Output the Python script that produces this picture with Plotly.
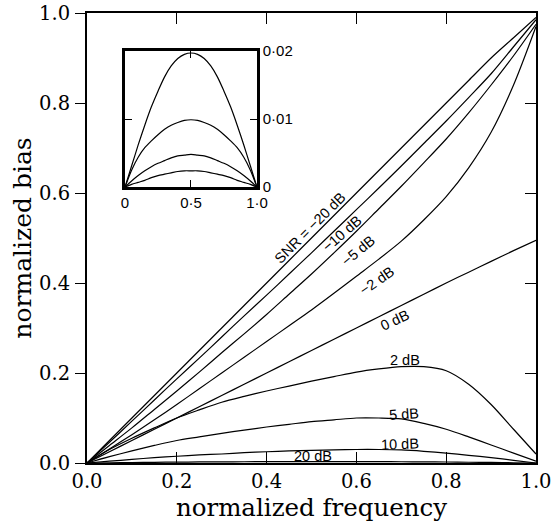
import plotly.graph_objects as go

# ---- main chart data ----
freq = [0.0, 0.05, 0.1, 0.15, 0.2, 0.25, 0.3, 0.35, 0.4, 0.45, 0.5,
        0.55, 0.6, 0.65, 0.7, 0.75, 0.8, 0.85, 0.9, 0.95, 1.0]
bias_m20 = [0.0, 0.05, 0.10, 0.15, 0.20, 0.25, 0.30, 0.35, 0.40, 0.45, 0.50,
            0.55, 0.60, 0.65, 0.70, 0.75, 0.80, 0.85, 0.90, 0.945, 0.99]
bias_m10 = [0.0, 0.046, 0.093, 0.140, 0.187, 0.233, 0.280, 0.327, 0.373, 0.420, 0.467,
            0.515, 0.563, 0.611, 0.660, 0.710, 0.760, 0.812, 0.865, 0.925, 0.985]
bias_m5 = [0.0, 0.039, 0.078, 0.119, 0.160, 0.202, 0.245, 0.287, 0.330, 0.375, 0.420,
           0.467, 0.515, 0.565, 0.615, 0.667, 0.720, 0.778, 0.840, 0.905, 0.975]
bias_m2 = [0.0, 0.031, 0.063, 0.096, 0.130, 0.165, 0.200, 0.235, 0.270, 0.305, 0.340,
           0.377, 0.415, 0.453, 0.493, 0.540, 0.592, 0.656, 0.735, 0.840, 0.970]
bias_0 = [0.0, 0.025, 0.050, 0.075, 0.100, 0.125, 0.150, 0.175, 0.200, 0.225, 0.250,
          0.275, 0.300, 0.325, 0.350, 0.375, 0.400, 0.424, 0.448, 0.472, 0.495]
bias_2 = [0.0, 0.030, 0.055, 0.078, 0.100, 0.118, 0.135, 0.148, 0.160, 0.171, 0.182,
          0.192, 0.202, 0.209, 0.214, 0.214, 0.205, 0.175, 0.130, 0.075, 0.020]
bias_5 = [0.0, 0.014, 0.027, 0.039, 0.050, 0.058, 0.066, 0.073, 0.080, 0.086, 0.092,
          0.096, 0.100, 0.100, 0.098, 0.088, 0.075, 0.058, 0.040, 0.022, 0.004]
bias_10 = [0.0, 0.004, 0.008, 0.012, 0.015, 0.018, 0.020, 0.023, 0.025, 0.027, 0.028,
           0.029, 0.030, 0.030, 0.029, 0.026, 0.022, 0.017, 0.012, 0.006, 0.000]
bias_20 = [0.0, 0.0005, 0.001, 0.0015, 0.002, 0.0023, 0.0025, 0.0028, 0.003, 0.0031, 0.0032,
           0.0031, 0.003, 0.0029, 0.0028, 0.0025, 0.0022, 0.0017, 0.0012, 0.0006, 0.0]

series = [bias_m20, bias_m10, bias_m5, bias_m2, bias_0, bias_2, bias_5, bias_10, bias_20]

labels = ["SNR = −20 dB", "−10 dB", "−5 dB", "−2 dB", "0 dB", "2 dB", "5 dB", "10 dB", "20 dB"]
label_x = [0.496, 0.567, 0.603, 0.645, 0.687, 0.709, 0.706, 0.698, 0.504]
label_y = [0.523, 0.509, 0.472, 0.404, 0.317, 0.228, 0.109, 0.043, 0.015]
label_angle = [-45, -41, -40, -35, -25, 0, -4, -2, 0]

main_ticks = [0.0, 0.2, 0.4, 0.6, 0.8, 1.0]
main_ticktext = ["0.0", "0.2", "0.4", "0.6", "0.8", "1.0"]

# ---- inset data ----
inset_x = [0.0, 0.05, 0.1, 0.15, 0.2, 0.25, 0.3, 0.35, 0.4, 0.45, 0.5,
           0.55, 0.6, 0.65, 0.7, 0.75, 0.8, 0.85, 0.9, 0.95, 1.0]
inset_a = [0.0, 0.0031, 0.0062, 0.0091, 0.0118, 0.0141, 0.0162, 0.0178, 0.0189, 0.0195, 0.0197,
           0.0195, 0.0189, 0.0178, 0.0162, 0.0141, 0.0118, 0.0091, 0.0062, 0.0031, 0.0]
inset_b = [0.0, 0.0025, 0.0044, 0.0058, 0.0068, 0.0077, 0.0085, 0.0091, 0.0095, 0.0098, 0.0099,
           0.0098, 0.0095, 0.0091, 0.0085, 0.0077, 0.0068, 0.0058, 0.0044, 0.0025, 0.0]
inset_c = [0.0, 0.0009, 0.0017, 0.0024, 0.0030, 0.0035, 0.0039, 0.0043, 0.0046, 0.0047, 0.0048,
           0.0047, 0.0046, 0.0043, 0.0039, 0.0035, 0.0030, 0.0024, 0.0017, 0.0009, 0.0]
inset_d = [0.0, 0.0004, 0.0007, 0.0010, 0.0014, 0.0017, 0.0019, 0.0021, 0.0023, 0.0024, 0.0024,
           0.0024, 0.0023, 0.0021, 0.0019, 0.0017, 0.0014, 0.0010, 0.0007, 0.0004, 0.0]
inset_series = [inset_a, inset_b, inset_c, inset_d]
inset_xticks = [0.0, 0.5, 1.0]
inset_xticktext = ["0", "0·5", "1·0"]
inset_yticks = [0.0, 0.01, 0.02]
inset_yticktext = ["0", "0·01", "0·02"]

SERIF = "DejaVu Serif"
SANS = "Liberation Sans, Arial, sans-serif"

fig = go.Figure()
for ys in series:
    fig.add_trace(go.Scatter(x=freq, y=ys, mode="lines", line=dict(color="black", width=1.2, shape="spline", smoothing=0.8),
                             showlegend=False, hoverinfo="skip", xaxis="x", yaxis="y"))
# invisible trace to activate right-hand overlay axis
fig.add_trace(go.Scatter(x=freq, y=bias_m20, mode="lines", line=dict(width=0), opacity=0,
                         showlegend=False, hoverinfo="skip", xaxis="x", yaxis="y2"))
for ys in inset_series:
    fig.add_trace(go.Scatter(x=inset_x, y=ys, mode="lines", line=dict(color="black", width=1.2, shape="spline", smoothing=0.8),
                             showlegend=False, hoverinfo="skip", xaxis="x3", yaxis="y3"))

for t, x, y, a in zip(labels, label_x, label_y, label_angle):
    fig.add_annotation(x=x, y=y, xref="x", yref="y", text=t, showarrow=False, textangle=a,
                       font=dict(family=SANS, size=14.5, color="black"))

fig.update_layout(
    width=560, height=527,
    margin=dict(l=87, r=24, t=13, b=64, autoexpand=False),
    paper_bgcolor="white", plot_bgcolor="white",
    xaxis=dict(range=[0, 1], tickvals=main_ticks, ticktext=main_ticktext, ticks="inside", ticklen=11,
               tickwidth=1.3, tickcolor="black", showline=True, linecolor="black", linewidth=2,
               mirror="ticks", showgrid=False, zeroline=False, automargin=False,
               tickfont=dict(family=SERIF, size=19.5, color="black"),
               title=dict(text="normalized frequency", font=dict(family=SERIF, size=24.5, color="black"), standoff=4)),
    yaxis=dict(range=[0, 1], tickvals=main_ticks, ticktext=main_ticktext, ticks="outside", ticklen=10,
               tickwidth=1.3, tickcolor="black", showline=True, linecolor="black", linewidth=2,
               mirror=True, showgrid=False, zeroline=False, ticklabelstandoff=1, automargin=False,
               tickfont=dict(family=SERIF, size=19.5, color="black"),
               title=dict(text="normalized bias", font=dict(family=SERIF, size=25, color="black"), standoff=0)),
    yaxis2=dict(range=[0, 1], overlaying="y", side="right", tickvals=main_ticks, ticks="inside", ticklen=11,
                tickwidth=1.3, tickcolor="black", showticklabels=False, showline=False, showgrid=False,
                zeroline=False, automargin=False),
    xaxis3=dict(domain=[0.0846, 0.3786], anchor="y3", range=[0, 1], tickvals=inset_xticks, ticktext=inset_xticktext,
                ticks="inside", ticklen=7, tickwidth=1.2, tickcolor="black", showline=True, linecolor="black",
                linewidth=2.5, mirror="ticks", showgrid=False, zeroline=False, automargin=False,
                tickfont=dict(family=SANS, size=15, color="black")),
    yaxis3=dict(domain=[0.613, 0.9156], anchor="x3", range=[0, 0.02], side="right", tickvals=inset_yticks,
                ticktext=inset_yticktext, ticks="inside", ticklen=7, tickwidth=1.2, tickcolor="black",
                showline=True, linecolor="black", linewidth=2.5, mirror="ticks", showgrid=False, zeroline=False,
                automargin=False, tickfont=dict(family=SANS, size=15, color="black")),
)

fig.write_html("out.html", config={"displayModeBar": False},
               post_script="document.body.style.margin='0px';")
